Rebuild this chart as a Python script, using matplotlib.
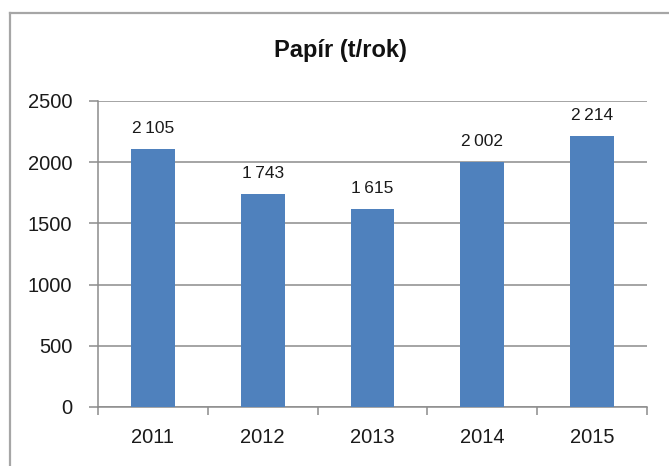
import matplotlib.pyplot as plt
from matplotlib.lines import Line2D

years = ["2011", "2012", "2013", "2014", "2015"]
values = [2105, 1743, 1615, 2002, 2214]
labels = ["2\u2009105", "1\u2009743", "1\u2009615", "2\u2009002", "2\u2009214"]
yticks = [0, 500, 1000, 1500, 2000, 2500]

plt.rcParams['font.family'] = ['Liberation Sans', 'DejaVu Sans']

W, H = 669, 466
fig = plt.figure(figsize=(W / 100, H / 100), dpi=100)
ax = fig.add_axes([98 / W, 1 - 407 / H, (647 - 98) / W, (407 - 101) / H])

grid_c = '#8c8c8c'
x = list(range(len(years)))
ax.bar(x, values, width=0.4, color='#4f81bd', zorder=3)

# data labels above bars
for xi, v, lab in zip(x, values, labels):
    ax.annotate(lab, (xi, v), xytext=(0, 11.5), textcoords='offset points',
                ha='center', va='baseline', fontsize=12.5, color='#1a1a1a')

ax.set_xlim(-0.5, len(years) - 0.5)
ax.set_ylim(0, 2500)
ax.set_yticks(yticks)
ax.yaxis.grid(True, color=grid_c, linewidth=1.1, zorder=0)
ax.set_axisbelow(True)

# category labels centered, tick marks at boundaries
ax.set_xticks(x)
ax.set_xticklabels(years)
ax.set_xticks([i - 0.5 for i in range(len(years) + 1)], minor=True)
ax.tick_params(axis='x', which='major', length=0, pad=15, labelsize=14.5, colors='#1a1a1a')
ax.tick_params(axis='x', which='minor', length=6, width=1.1, color=grid_c, direction='out')
ax.tick_params(axis='y', length=6.5, width=1.1, color=grid_c, pad=12, labelsize=14.5,
               labelcolor='#1a1a1a')

for s in ['top', 'right']:
    ax.spines[s].set_visible(False)
for s in ['left', 'bottom']:
    ax.spines[s].set_color(grid_c)
    ax.spines[s].set_linewidth(1.1)

fig.text(340 / W, 1 - 50 / H, "Papír (t/rok)", ha='center', va='center',
         fontsize=17, fontweight='bold', color='#111111')

# chart area border (only left and top visible in the crop)
bx, by = 9.5 / W, 1 - 12.5 / H
fig.add_artist(Line2D([bx, bx], [0, by], transform=fig.transFigure, color='#a6a6a6', linewidth=1.6))
fig.add_artist(Line2D([bx, 1], [by, by], transform=fig.transFigure, color='#a6a6a6', linewidth=1.6))

fig.savefig("out.png", dpi=100)
